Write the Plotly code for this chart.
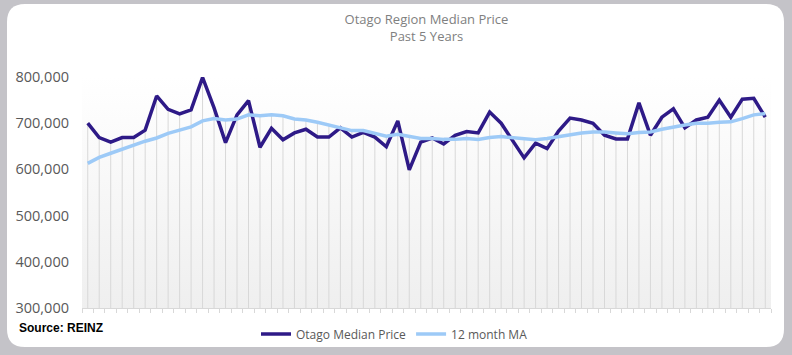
import plotly.graph_objects as go

# ---- data ----
months = [f"{m}-{y}" for y in range(19, 24) for m in
          ["Jan", "Feb", "Mar", "Apr", "May", "Jun", "Jul", "Aug", "Sep", "Oct", "Nov", "Dec"]]

median_price = [700000, 669000, 659000, 669000, 669000, 685000, 759000, 730000, 720000, 729000,
                799000, 733000, 658000, 718000, 749000, 648000, 689000, 664000, 679000, 687000,
                670000, 670000, 690000, 670000, 680000, 670000, 649000, 705000, 599000, 659000,
                668000, 655000, 674000, 682000, 679000, 724000, 700000, 664000, 625000, 657000,
                645000, 683000, 711000, 707000, 700000, 674000, 666000, 666000, 744000, 674000,
                713000, 731000, 690000, 707000, 713000, 750000, 713000, 752000, 754000, 713000]

ma_12 = [613000, 626000, 635000, 644000, 653000, 661000, 668000, 678000, 685000, 692000,
         705000, 710000, 707000, 709000, 718000, 716000, 718000, 716000, 709000, 707000,
         702000, 696000, 689000, 684000, 684000, 678000, 672000, 676000, 671000, 667000,
         667000, 665000, 665000, 667000, 665000, 669000, 671000, 669000, 667000, 664000,
         667000, 671000, 674000, 679000, 681000, 681000, 679000, 677000, 680000, 681000,
         687000, 692000, 696000, 700000, 700000, 702000, 703000, 710000, 718000, 721000]

y_ticks = [300000, 400000, 500000, 600000, 700000, 800000]
y_tick_text = ["300,000", "400,000", "500,000", "600,000", "700,000", "800,000"]

# ---- layout constants ----
W, H = 792, 355
ML, MR, MT, MB = 82, 21, 77, 47
PW, PH = W - ML - MR, H - MT - MB
Y0, Y1 = y_ticks[0], y_ticks[-1]

def px(x):
    return (x - ML) / PW

def py(y):
    return (H - MB - y) / PH

n = len(months)
xs = list(range(n))

fig = go.Figure()

# gradient plot background
fig.add_trace(go.Scatter(
    x=[-0.5, n - 0.5, n - 0.5, -0.5, -0.5],
    y=[Y0, Y0, Y1, Y1, Y0],
    fill="toself", mode="none",
    fillgradient=dict(type="vertical", start=Y0, stop=Y1,
                      colorscale=[[0, "#efefef"], [1, "#ffffff"]]),
    hoverinfo="skip", showlegend=False))

# drop lines
dx, dy = [], []
for i in xs:
    dx += [i, i, None]
    dy += [Y0, max(median_price[i], ma_12[i]), None]
fig.add_trace(go.Scatter(x=dx, y=dy, mode="lines",
                         line=dict(color="#d8d8d8", width=1),
                         hoverinfo="skip", showlegend=False))

fig.add_trace(go.Scatter(x=xs, y=median_price, mode="lines", name="Otago Median Price",
                         line=dict(color="#2e1a87", width=3.5), cliponaxis=False,
                         text=months, hovertemplate="%{text}: %{y:,}<extra></extra>"))
fig.add_trace(go.Scatter(x=xs, y=ma_12, mode="lines", name="12 month MA",
                         line=dict(color="#9dcaf7", width=3.5), cliponaxis=False,
                         text=months, hovertemplate="%{text}: %{y:,}<extra></extra>"))

# card shape (rounded white rectangle)
L, R, T, B, rad = 7, 784, 4, 347, 18
path = (f"M {px(L+rad)},{py(T)} L {px(R-rad)},{py(T)} "
        f"Q {px(R)},{py(T)} {px(R)},{py(T+rad)} "
        f"L {px(R)},{py(B-rad)} Q {px(R)},{py(B)} {px(R-rad)},{py(B)} "
        f"L {px(L+rad)},{py(B)} Q {px(L)},{py(B)} {px(L)},{py(B-rad)} "
        f"L {px(L)},{py(T+rad)} Q {px(L)},{py(T)} {px(L+rad)},{py(T)} Z")

fig.update_layout(
    width=W, height=H,
    margin=dict(l=ML, r=MR, t=MT, b=MB, autoexpand=False),
    paper_bgcolor="#c4c3c8",
    plot_bgcolor="rgba(0,0,0,0)",
    font=dict(family="Open Sans", color="#595959"),
    shapes=[dict(type="path", path=path, xref="paper", yref="paper",
                 fillcolor="#ffffff", line=dict(width=0), layer="below")],
    title=dict(text="Otago Region Median Price<br>Past 5 Years",
               x=0.5, xref="paper", xanchor="center",
               y=1 - 24 / H, yanchor="top",
               font=dict(size=13, color="#808080", family="Open Sans")),
    xaxis=dict(range=[-0.5, n - 0.5], showgrid=False, zeroline=False,
               showline=True, linecolor="#d8d8d8", linewidth=1,
               tickmode="array", tickvals=[i - 0.5 for i in range(n + 1)],
               ticks="outside", ticklen=4, tickcolor="#d8d8d8",
               showticklabels=False),
    yaxis=dict(range=[Y0, Y1], showgrid=False, zeroline=False, showline=False,
               tickmode="array", tickvals=y_ticks, ticktext=y_tick_text,
               ticks="", ticklabelstandoff=12,
               tickfont=dict(size=14.5, color="#595959")),
    legend=dict(orientation="h", x=px(256), y=py(334), xanchor="left", yanchor="middle",
                bgcolor="rgba(0,0,0,0)", font=dict(size=12, color="#595959"),
                itemwidth=30, traceorder="normal"),
    annotations=[dict(text="<b>Source: REINZ</b>", xref="paper", yref="paper",
                      x=px(17), y=py(328), xanchor="left", yanchor="middle",
                      showarrow=False,
                      font=dict(family="Liberation Sans", size=12, color="#000000"))],
    showlegend=True,
)

fig.write_html("out.html", config={"displayModeBar": False},
               post_script="document.body.style.margin='0';document.body.style.padding='0';")
